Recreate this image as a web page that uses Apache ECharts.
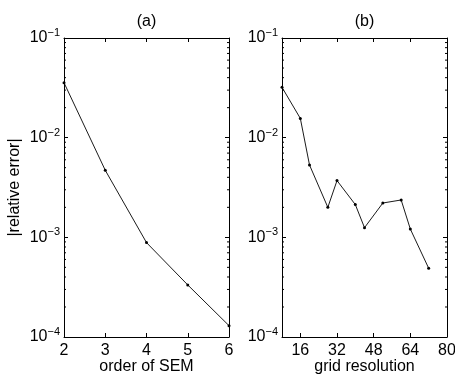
<!DOCTYPE html>
<html><head><meta charset="utf-8">
<script src="https://cdn.jsdelivr.net/npm/echarts@6/dist/echarts.min.js"></script>
<style>html,body{margin:0;padding:0;background:#fff}#c{width:455px;height:377px}</style>
</head><body><div id="c"></div>
<script>
// Panel (a)
const semOrder = [2, 3, 4, 5, 6];
const semError = [0.0356, 0.00471, 0.000885, 0.000333, 0.00013];
// Panel (b)
const gridRes = [8, 16, 20, 28, 32, 40, 44, 52, 60, 64, 72];
const gridError = [0.032, 0.0156, 0.00532, 0.0020, 0.00371, 0.00213, 0.00125, 0.00221, 0.00237, 0.00121, 0.00049];
const resTicks = [16, 32, 48, 64, 80];
const titles = ['(a)', '(b)'];
const yLabel = '|relative error|';
const xLabels = ['order of SEM', 'grid resolution'];

const FONT = 'Liberation Sans';
const FS = 16;
const chart = echarts.init(document.getElementById('c'));

const minorVals = [];
for (let e = -4; e < -1; e++) for (let m = 2; m <= 9; m++) minorVals.push(m * Math.pow(10, e));

function yFmt(v) {
  const e = Math.round(Math.log10(v));
  return '{b|10}{s|\u2212' + Math.abs(e) + '}';
}
const rich = {
  b: { fontFamily: FONT, fontSize: FS, color: '#000' },
  s: { fontFamily: FONT, fontSize: 11, color: '#000', padding: [0, 0, 10, 0] }
};
const lineStyleAxis = { color: '#000', width: 1 };

function yAxes(gi) {
  const base = {
    type: 'log', logBase: 10, min: 1e-4, max: 1e-1, gridIndex: gi,
    axisLine: { show: true, lineStyle: lineStyleAxis },
    splitLine: { show: false },
    axisTick: { show: true, inside: true, length: 4, lineStyle: lineStyleAxis },
  };
  return [
    Object.assign({}, base, {
      position: 'left',
      axisLabel: { formatter: yFmt, rich: rich, margin: 4 },
      name: gi === 0 ? yLabel : '', nameLocation: 'middle', nameGap: 41, nameMoveOverlap: false,
      nameTextStyle: { fontFamily: FONT, fontSize: FS, color: '#000' }
    }),
    Object.assign({}, base, { position: 'right', axisLabel: { show: false } })
  ];
}
const xLabelStyle = { fontFamily: FONT, fontSize: FS, color: '#000', margin: 6 };
function xAxes(gi, extra) {
  const base = Object.assign({
    type: 'value', gridIndex: gi,
    axisLine: { show: true, onZero: false, lineStyle: lineStyleAxis },
    splitLine: { show: false },
  }, extra);
  return [
    Object.assign({}, base, {
      position: 'bottom',
      axisTick: Object.assign({ show: true, inside: true, length: 4, lineStyle: lineStyleAxis }, extra.tickExtra || {}),
      axisLabel: Object.assign({}, xLabelStyle, extra.labelExtra || {}),
      name: xLabels[gi], nameLocation: 'middle', nameGap: 22, nameMoveOverlap: false,
      nameTextStyle: { fontFamily: FONT, fontSize: FS, color: '#000' }
    }),
    Object.assign({}, base, {
      position: 'top',
      axisTick: Object.assign({ show: true, inside: true, length: 4, lineStyle: lineStyleAxis }, extra.tickExtra || {}),
      axisLabel: { show: false }
    })
  ];
}

function minorSeries(gi) {
  return {
    type: 'custom', xAxisIndex: gi * 2, yAxisIndex: gi * 2, silent: true, clip: false,
    data: minorVals.map(v => [v]),
    renderItem: function (params, api) {
      const cs = params.coordSys;
      const y = api.coord([gi === 0 ? 2 : 8, api.value(0)])[1];
      return {
        type: 'group', children: [
          { type: 'line', shape: { x1: cs.x, y1: y, x2: cs.x + 2, y2: y }, style: { stroke: '#000', lineWidth: 1 } },
          { type: 'line', shape: { x1: cs.x + cs.width, y1: y, x2: cs.x + cs.width - 2, y2: y }, style: { stroke: '#000', lineWidth: 1 } }
        ]
      };
    },
    encode: { y: 0 }
  };
}

const lineCommon = {
  type: 'line', symbol: 'circle', symbolSize: 3, showSymbol: true,
  lineStyle: { color: '#000', width: 0.9 }, itemStyle: { color: '#000' },
  emphasis: { disabled: true }, animation: false, clip: false
};

const ax0 = xAxes(0, { min: 2, max: 6, interval: 1 });
const ax1 = xAxes(1, {
  min: 8, max: 80,
  tickExtra: { customValues: resTicks },
  labelExtra: { customValues: resTicks }
});
const titleStyle = { fontFamily: FONT, fontSize: FS, fontWeight: 'normal', color: '#000' };

chart.setOption({
  animation: false,
  title: [
    { text: titles[0], left: 146.5, top: 14, textAlign: 'center', padding: 0, textStyle: titleStyle },
    { text: titles[1], left: 364.5, top: 14, textAlign: 'center', padding: 0, textStyle: titleStyle }
  ],
  grid: [
    { left: 64, top: 38, width: 165, height: 299, outerBoundsMode: 'none', containLabel: false },
    { left: 282, top: 38, width: 165, height: 299, outerBoundsMode: 'none', containLabel: false }
  ],
  xAxis: ax0.concat(ax1),
  yAxis: yAxes(0).concat(yAxes(1)),
  series: [
    Object.assign({}, lineCommon, { xAxisIndex: 0, yAxisIndex: 0, data: semOrder.map((x, i) => [x, semError[i]]) }),
    Object.assign({}, lineCommon, { xAxisIndex: 2, yAxisIndex: 2, data: gridRes.map((x, i) => [x, gridError[i]]) }),
    minorSeries(0), minorSeries(1)
  ]
});
</script></body></html>
